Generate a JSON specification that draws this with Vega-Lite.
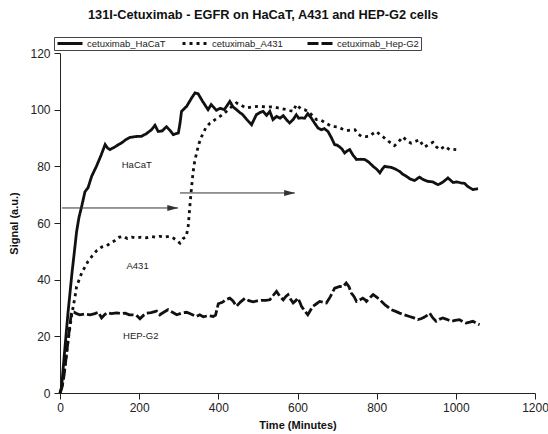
{
 "$schema": "https://vega.github.io/schema/vega-lite/v6.json",
 "width": 475,
 "height": 340,
 "autosize": {"type": "none"},
 "padding": {"left": 60, "top": 53, "right": 13, "bottom": 41},
 "background": "white",
 "config": {"view": {"stroke": null}, "font": "Liberation Sans", "axis": {"grid": false}},
 "title": {"text": "131I-Cetuximab - EGFR on HaCaT, A431 and HEP-G2 cells", "anchor": "start", "frame": "group", "dx": 28, "offset": 15, "fontSize": 12.8, "fontWeight": "bold", "font": "Liberation Sans", "color": "#111"},
 "datasets": {
  "curves": [
   {"series":"cetuximab_HaCaT","t":0,"v":0},{"series":"cetuximab_HaCaT","t":4,"v":2},{"series":"cetuximab_HaCaT","t":10,"v":12},{"series":"cetuximab_HaCaT","t":15,"v":20},{"series":"cetuximab_HaCaT","t":20,"v":28},{"series":"cetuximab_HaCaT","t":25,"v":35},{"series":"cetuximab_HaCaT","t":30,"v":42},{"series":"cetuximab_HaCaT","t":34,"v":47},{"series":"cetuximab_HaCaT","t":38,"v":52},{"series":"cetuximab_HaCaT","t":42,"v":57},{"series":"cetuximab_HaCaT","t":48,"v":62},{"series":"cetuximab_HaCaT","t":55,"v":66},{"series":"cetuximab_HaCaT","t":63,"v":71},{"series":"cetuximab_HaCaT","t":71,"v":72.5},{"series":"cetuximab_HaCaT","t":80,"v":76.5},{"series":"cetuximab_HaCaT","t":92,"v":80},{"series":"cetuximab_HaCaT","t":104,"v":84},{"series":"cetuximab_HaCaT","t":114,"v":87.7},{"series":"cetuximab_HaCaT","t":120,"v":86.5},{"series":"cetuximab_HaCaT","t":126,"v":85.9},{"series":"cetuximab_HaCaT","t":137,"v":86.7},{"series":"cetuximab_HaCaT","t":147,"v":87.6},{"series":"cetuximab_HaCaT","t":156,"v":88.3},{"series":"cetuximab_HaCaT","t":167,"v":89.5},{"series":"cetuximab_HaCaT","t":177,"v":90.2},{"series":"cetuximab_HaCaT","t":190,"v":90.5},{"series":"cetuximab_HaCaT","t":206,"v":90.6},{"series":"cetuximab_HaCaT","t":218,"v":91.5},{"series":"cetuximab_HaCaT","t":231,"v":92.9},{"series":"cetuximab_HaCaT","t":240,"v":94.5},{"series":"cetuximab_HaCaT","t":248,"v":92.3},{"series":"cetuximab_HaCaT","t":258,"v":92.5},{"series":"cetuximab_HaCaT","t":269,"v":94},{"series":"cetuximab_HaCaT","t":279,"v":92.5},{"series":"cetuximab_HaCaT","t":286,"v":91.2},{"series":"cetuximab_HaCaT","t":299,"v":91.8},{"series":"cetuximab_HaCaT","t":303,"v":95},{"series":"cetuximab_HaCaT","t":307,"v":99.4},{"series":"cetuximab_HaCaT","t":320,"v":101.2},{"series":"cetuximab_HaCaT","t":332,"v":104},{"series":"cetuximab_HaCaT","t":341,"v":105.9},{"series":"cetuximab_HaCaT","t":349,"v":105.6},{"series":"cetuximab_HaCaT","t":360,"v":103},{"series":"cetuximab_HaCaT","t":374,"v":100},{"series":"cetuximab_HaCaT","t":382,"v":101.8},{"series":"cetuximab_HaCaT","t":395,"v":99.8},{"series":"cetuximab_HaCaT","t":405,"v":100.5},{"series":"cetuximab_HaCaT","t":415,"v":100},{"series":"cetuximab_HaCaT","t":429,"v":102.9},{"series":"cetuximab_HaCaT","t":437,"v":101},{"series":"cetuximab_HaCaT","t":446,"v":100},{"series":"cetuximab_HaCaT","t":454,"v":99},{"series":"cetuximab_HaCaT","t":462,"v":98.2},{"series":"cetuximab_HaCaT","t":472,"v":96.5},{"series":"cetuximab_HaCaT","t":484,"v":94.7},{"series":"cetuximab_HaCaT","t":496,"v":98.2},{"series":"cetuximab_HaCaT","t":505,"v":99},{"series":"cetuximab_HaCaT","t":513,"v":99.4},{"series":"cetuximab_HaCaT","t":522,"v":98},{"series":"cetuximab_HaCaT","t":530,"v":99.4},{"series":"cetuximab_HaCaT","t":538,"v":96.5},{"series":"cetuximab_HaCaT","t":547,"v":97.6},{"series":"cetuximab_HaCaT","t":556,"v":97},{"series":"cetuximab_HaCaT","t":564,"v":97.9},{"series":"cetuximab_HaCaT","t":572,"v":96.5},{"series":"cetuximab_HaCaT","t":580,"v":95.3},{"series":"cetuximab_HaCaT","t":589,"v":96.5},{"series":"cetuximab_HaCaT","t":597,"v":98.2},{"series":"cetuximab_HaCaT","t":603,"v":97},{"series":"cetuximab_HaCaT","t":610,"v":97.1},{"series":"cetuximab_HaCaT","t":618,"v":97},{"series":"cetuximab_HaCaT","t":626,"v":98.6},{"series":"cetuximab_HaCaT","t":635,"v":97},{"series":"cetuximab_HaCaT","t":643,"v":95.3},{"series":"cetuximab_HaCaT","t":652,"v":93.5},{"series":"cetuximab_HaCaT","t":660,"v":92.9},{"series":"cetuximab_HaCaT","t":668,"v":93.3},{"series":"cetuximab_HaCaT","t":677,"v":92.3},{"series":"cetuximab_HaCaT","t":686,"v":90},{"series":"cetuximab_HaCaT","t":694,"v":87.6},{"series":"cetuximab_HaCaT","t":700,"v":87.5},{"series":"cetuximab_HaCaT","t":707,"v":86.8},{"series":"cetuximab_HaCaT","t":713,"v":86},{"series":"cetuximab_HaCaT","t":719,"v":84.7},{"series":"cetuximab_HaCaT","t":726,"v":85.5},{"series":"cetuximab_HaCaT","t":732,"v":85.9},{"series":"cetuximab_HaCaT","t":740,"v":84},{"series":"cetuximab_HaCaT","t":749,"v":82.4},{"series":"cetuximab_HaCaT","t":760,"v":82.5},{"series":"cetuximab_HaCaT","t":770,"v":82.4},{"series":"cetuximab_HaCaT","t":780,"v":81.5},{"series":"cetuximab_HaCaT","t":791,"v":80},{"series":"cetuximab_HaCaT","t":800,"v":79},{"series":"cetuximab_HaCaT","t":808,"v":77.7},{"series":"cetuximab_HaCaT","t":814,"v":79},{"series":"cetuximab_HaCaT","t":820,"v":80},{"series":"cetuximab_HaCaT","t":828,"v":79.8},{"series":"cetuximab_HaCaT","t":837,"v":79.6},{"series":"cetuximab_HaCaT","t":848,"v":79},{"series":"cetuximab_HaCaT","t":858,"v":78.2},{"series":"cetuximab_HaCaT","t":866,"v":77.2},{"series":"cetuximab_HaCaT","t":875,"v":76.5},{"series":"cetuximab_HaCaT","t":885,"v":75.5},{"series":"cetuximab_HaCaT","t":896,"v":75},{"series":"cetuximab_HaCaT","t":908,"v":76.2},{"series":"cetuximab_HaCaT","t":918,"v":75.3},{"series":"cetuximab_HaCaT","t":929,"v":74.7},{"series":"cetuximab_HaCaT","t":942,"v":74.5},{"series":"cetuximab_HaCaT","t":955,"v":73.5},{"series":"cetuximab_HaCaT","t":968,"v":74.5},{"series":"cetuximab_HaCaT","t":980,"v":75.9},{"series":"cetuximab_HaCaT","t":993,"v":74.3},{"series":"cetuximab_HaCaT","t":1003,"v":74.5},{"series":"cetuximab_HaCaT","t":1014,"v":74.1},{"series":"cetuximab_HaCaT","t":1022,"v":74},{"series":"cetuximab_HaCaT","t":1030,"v":72.9},{"series":"cetuximab_HaCaT","t":1043,"v":71.8},{"series":"cetuximab_HaCaT","t":1056,"v":72.1},
   {"series":"cetuximab_A431","t":0,"v":0},{"series":"cetuximab_A431","t":5,"v":2},{"series":"cetuximab_A431","t":10,"v":7},{"series":"cetuximab_A431","t":15,"v":12},{"series":"cetuximab_A431","t":20,"v":18},{"series":"cetuximab_A431","t":25,"v":23},{"series":"cetuximab_A431","t":29,"v":27},{"series":"cetuximab_A431","t":34,"v":31},{"series":"cetuximab_A431","t":38,"v":34},{"series":"cetuximab_A431","t":42,"v":37.6},{"series":"cetuximab_A431","t":50,"v":40.6},{"series":"cetuximab_A431","t":55,"v":42.4},{"series":"cetuximab_A431","t":63,"v":44.5},{"series":"cetuximab_A431","t":71,"v":46.5},{"series":"cetuximab_A431","t":82,"v":48.5},{"series":"cetuximab_A431","t":93,"v":50.3},{"series":"cetuximab_A431","t":105,"v":51.5},{"series":"cetuximab_A431","t":118,"v":52},{"series":"cetuximab_A431","t":128,"v":53},{"series":"cetuximab_A431","t":139,"v":53.8},{"series":"cetuximab_A431","t":150,"v":55},{"series":"cetuximab_A431","t":160,"v":55.3},{"series":"cetuximab_A431","t":170,"v":54.5},{"series":"cetuximab_A431","t":181,"v":55},{"series":"cetuximab_A431","t":193,"v":54.7},{"series":"cetuximab_A431","t":205,"v":55},{"series":"cetuximab_A431","t":218,"v":54.8},{"series":"cetuximab_A431","t":230,"v":55.2},{"series":"cetuximab_A431","t":241,"v":55},{"series":"cetuximab_A431","t":252,"v":55.3},{"series":"cetuximab_A431","t":263,"v":55},{"series":"cetuximab_A431","t":275,"v":55.3},{"series":"cetuximab_A431","t":286,"v":54.7},{"series":"cetuximab_A431","t":294,"v":54},{"series":"cetuximab_A431","t":303,"v":52.9},{"series":"cetuximab_A431","t":311,"v":54.5},{"series":"cetuximab_A431","t":317,"v":55},{"series":"cetuximab_A431","t":320,"v":56},{"series":"cetuximab_A431","t":324,"v":59},{"series":"cetuximab_A431","t":328,"v":65.9},{"series":"cetuximab_A431","t":332,"v":72},{"series":"cetuximab_A431","t":336,"v":77.7},{"series":"cetuximab_A431","t":340,"v":81.5},{"series":"cetuximab_A431","t":345,"v":84.7},{"series":"cetuximab_A431","t":351,"v":88},{"series":"cetuximab_A431","t":358,"v":90.6},{"series":"cetuximab_A431","t":368,"v":93.5},{"series":"cetuximab_A431","t":379,"v":95.3},{"series":"cetuximab_A431","t":392,"v":96.5},{"series":"cetuximab_A431","t":404,"v":97.6},{"series":"cetuximab_A431","t":416,"v":98.8},{"series":"cetuximab_A431","t":425,"v":100},{"series":"cetuximab_A431","t":435,"v":101.2},{"series":"cetuximab_A431","t":446,"v":102.4},{"series":"cetuximab_A431","t":458,"v":101.5},{"series":"cetuximab_A431","t":471,"v":100.6},{"series":"cetuximab_A431","t":488,"v":101},{"series":"cetuximab_A431","t":505,"v":101.2},{"series":"cetuximab_A431","t":518,"v":101},{"series":"cetuximab_A431","t":530,"v":101},{"series":"cetuximab_A431","t":541,"v":101},{"series":"cetuximab_A431","t":551,"v":100.6},{"series":"cetuximab_A431","t":562,"v":100.3},{"series":"cetuximab_A431","t":572,"v":100},{"series":"cetuximab_A431","t":580,"v":99.7},{"series":"cetuximab_A431","t":589,"v":99.4},{"series":"cetuximab_A431","t":597,"v":101.8},{"series":"cetuximab_A431","t":603,"v":101},{"series":"cetuximab_A431","t":610,"v":100.2},{"series":"cetuximab_A431","t":618,"v":100},{"series":"cetuximab_A431","t":626,"v":99.4},{"series":"cetuximab_A431","t":637,"v":98},{"series":"cetuximab_A431","t":648,"v":96.5},{"series":"cetuximab_A431","t":656,"v":96.5},{"series":"cetuximab_A431","t":664,"v":95.9},{"series":"cetuximab_A431","t":675,"v":95},{"series":"cetuximab_A431","t":686,"v":94.1},{"series":"cetuximab_A431","t":694,"v":94},{"series":"cetuximab_A431","t":702,"v":93.9},{"series":"cetuximab_A431","t":713,"v":93.2},{"series":"cetuximab_A431","t":724,"v":92.6},{"series":"cetuximab_A431","t":735,"v":92.8},{"series":"cetuximab_A431","t":745,"v":92.9},{"series":"cetuximab_A431","t":753,"v":91.5},{"series":"cetuximab_A431","t":761,"v":90.6},{"series":"cetuximab_A431","t":772,"v":90.5},{"series":"cetuximab_A431","t":782,"v":90.6},{"series":"cetuximab_A431","t":790,"v":91.5},{"series":"cetuximab_A431","t":799,"v":92.3},{"series":"cetuximab_A431","t":810,"v":91},{"series":"cetuximab_A431","t":820,"v":90},{"series":"cetuximab_A431","t":833,"v":88.5},{"series":"cetuximab_A431","t":845,"v":87.3},{"series":"cetuximab_A431","t":856,"v":88.8},{"series":"cetuximab_A431","t":866,"v":90.4},{"series":"cetuximab_A431","t":877,"v":89},{"series":"cetuximab_A431","t":887,"v":88.2},{"series":"cetuximab_A431","t":898,"v":88.8},{"series":"cetuximab_A431","t":908,"v":89.4},{"series":"cetuximab_A431","t":914,"v":88},{"series":"cetuximab_A431","t":921,"v":86.8},{"series":"cetuximab_A431","t":932,"v":87.8},{"series":"cetuximab_A431","t":942,"v":88.5},{"series":"cetuximab_A431","t":950,"v":87},{"series":"cetuximab_A431","t":959,"v":85.9},{"series":"cetuximab_A431","t":966,"v":86.5},{"series":"cetuximab_A431","t":972,"v":87.1},{"series":"cetuximab_A431","t":978,"v":86.5},{"series":"cetuximab_A431","t":984,"v":85.9},{"series":"cetuximab_A431","t":992,"v":86},{"series":"cetuximab_A431","t":1001,"v":85.9},
   {"series":"cetuximab_Hep-G2","t":0,"v":0},{"series":"cetuximab_Hep-G2","t":5,"v":2},{"series":"cetuximab_Hep-G2","t":10,"v":6},{"series":"cetuximab_Hep-G2","t":15,"v":12},{"series":"cetuximab_Hep-G2","t":20,"v":18},{"series":"cetuximab_Hep-G2","t":25,"v":24},{"series":"cetuximab_Hep-G2","t":29,"v":28.5},{"series":"cetuximab_Hep-G2","t":35,"v":28.6},{"series":"cetuximab_Hep-G2","t":42,"v":28},{"series":"cetuximab_Hep-G2","t":50,"v":27.6},{"series":"cetuximab_Hep-G2","t":63,"v":27.9},{"series":"cetuximab_Hep-G2","t":76,"v":27.6},{"series":"cetuximab_Hep-G2","t":88,"v":28},{"series":"cetuximab_Hep-G2","t":97,"v":28.5},{"series":"cetuximab_Hep-G2","t":105,"v":26.5},{"series":"cetuximab_Hep-G2","t":112,"v":27.5},{"series":"cetuximab_Hep-G2","t":118,"v":28.3},{"series":"cetuximab_Hep-G2","t":130,"v":28},{"series":"cetuximab_Hep-G2","t":143,"v":28.3},{"series":"cetuximab_Hep-G2","t":155,"v":28},{"series":"cetuximab_Hep-G2","t":165,"v":28.2},{"series":"cetuximab_Hep-G2","t":175,"v":27.6},{"series":"cetuximab_Hep-G2","t":185,"v":27.6},{"series":"cetuximab_Hep-G2","t":193,"v":27.5},{"series":"cetuximab_Hep-G2","t":202,"v":26.2},{"series":"cetuximab_Hep-G2","t":210,"v":27.3},{"series":"cetuximab_Hep-G2","t":219,"v":28.2},{"series":"cetuximab_Hep-G2","t":230,"v":28.4},{"series":"cetuximab_Hep-G2","t":244,"v":28.9},{"series":"cetuximab_Hep-G2","t":252,"v":27.6},{"series":"cetuximab_Hep-G2","t":262,"v":28.5},{"series":"cetuximab_Hep-G2","t":273,"v":29.4},{"series":"cetuximab_Hep-G2","t":284,"v":28.5},{"series":"cetuximab_Hep-G2","t":295,"v":27.6},{"series":"cetuximab_Hep-G2","t":307,"v":28.2},{"series":"cetuximab_Hep-G2","t":320,"v":28.5},{"series":"cetuximab_Hep-G2","t":332,"v":27.8},{"series":"cetuximab_Hep-G2","t":345,"v":27},{"series":"cetuximab_Hep-G2","t":353,"v":27.6},{"series":"cetuximab_Hep-G2","t":362,"v":26.9},{"series":"cetuximab_Hep-G2","t":375,"v":27.3},{"series":"cetuximab_Hep-G2","t":387,"v":27},{"series":"cetuximab_Hep-G2","t":393,"v":27.5},{"series":"cetuximab_Hep-G2","t":400,"v":31.5},{"series":"cetuximab_Hep-G2","t":410,"v":32},{"series":"cetuximab_Hep-G2","t":420,"v":33},{"series":"cetuximab_Hep-G2","t":429,"v":33.5},{"series":"cetuximab_Hep-G2","t":437,"v":32.5},{"series":"cetuximab_Hep-G2","t":446,"v":30.6},{"series":"cetuximab_Hep-G2","t":455,"v":32},{"series":"cetuximab_Hep-G2","t":467,"v":33.4},{"series":"cetuximab_Hep-G2","t":477,"v":32.6},{"series":"cetuximab_Hep-G2","t":488,"v":32.2},{"series":"cetuximab_Hep-G2","t":498,"v":32.5},{"series":"cetuximab_Hep-G2","t":509,"v":32.7},{"series":"cetuximab_Hep-G2","t":520,"v":32.7},{"series":"cetuximab_Hep-G2","t":530,"v":32.9},{"series":"cetuximab_Hep-G2","t":539,"v":34.5},{"series":"cetuximab_Hep-G2","t":547,"v":35.9},{"series":"cetuximab_Hep-G2","t":556,"v":34},{"series":"cetuximab_Hep-G2","t":564,"v":32.9},{"series":"cetuximab_Hep-G2","t":570,"v":34},{"series":"cetuximab_Hep-G2","t":576,"v":34.7},{"series":"cetuximab_Hep-G2","t":583,"v":33},{"series":"cetuximab_Hep-G2","t":589,"v":31.8},{"series":"cetuximab_Hep-G2","t":595,"v":32.5},{"series":"cetuximab_Hep-G2","t":601,"v":33.5},{"series":"cetuximab_Hep-G2","t":606,"v":32},{"series":"cetuximab_Hep-G2","t":610,"v":30.6},{"series":"cetuximab_Hep-G2","t":618,"v":29},{"series":"cetuximab_Hep-G2","t":626,"v":27.6},{"series":"cetuximab_Hep-G2","t":632,"v":29},{"series":"cetuximab_Hep-G2","t":639,"v":30.6},{"series":"cetuximab_Hep-G2","t":648,"v":31.5},{"series":"cetuximab_Hep-G2","t":656,"v":32.3},{"series":"cetuximab_Hep-G2","t":665,"v":32},{"series":"cetuximab_Hep-G2","t":673,"v":31.8},{"series":"cetuximab_Hep-G2","t":683,"v":34},{"series":"cetuximab_Hep-G2","t":694,"v":37},{"series":"cetuximab_Hep-G2","t":700,"v":37.3},{"series":"cetuximab_Hep-G2","t":707,"v":37.6},{"series":"cetuximab_Hep-G2","t":715,"v":37.5},{"series":"cetuximab_Hep-G2","t":723,"v":38.8},{"series":"cetuximab_Hep-G2","t":730,"v":37.5},{"series":"cetuximab_Hep-G2","t":736,"v":35.3},{"series":"cetuximab_Hep-G2","t":743,"v":34},{"series":"cetuximab_Hep-G2","t":749,"v":32.3},{"series":"cetuximab_Hep-G2","t":757,"v":32.8},{"series":"cetuximab_Hep-G2","t":765,"v":33.5},{"series":"cetuximab_Hep-G2","t":770,"v":33},{"series":"cetuximab_Hep-G2","t":774,"v":32.3},{"series":"cetuximab_Hep-G2","t":782,"v":33.5},{"series":"cetuximab_Hep-G2","t":791,"v":34.7},{"series":"cetuximab_Hep-G2","t":800,"v":33.8},{"series":"cetuximab_Hep-G2","t":808,"v":32.9},{"series":"cetuximab_Hep-G2","t":822,"v":31},{"series":"cetuximab_Hep-G2","t":837,"v":29.4},{"series":"cetuximab_Hep-G2","t":848,"v":28.8},{"series":"cetuximab_Hep-G2","t":858,"v":28.2},{"series":"cetuximab_Hep-G2","t":870,"v":27.6},{"series":"cetuximab_Hep-G2","t":883,"v":27},{"series":"cetuximab_Hep-G2","t":894,"v":26.5},{"series":"cetuximab_Hep-G2","t":904,"v":25.9},{"series":"cetuximab_Hep-G2","t":912,"v":26.2},{"series":"cetuximab_Hep-G2","t":921,"v":26.8},{"series":"cetuximab_Hep-G2","t":928,"v":27.5},{"series":"cetuximab_Hep-G2","t":934,"v":28.2},{"series":"cetuximab_Hep-G2","t":942,"v":26.5},{"series":"cetuximab_Hep-G2","t":950,"v":25.3},{"series":"cetuximab_Hep-G2","t":958,"v":26},{"series":"cetuximab_Hep-G2","t":967,"v":26.5},{"series":"cetuximab_Hep-G2","t":977,"v":26},{"series":"cetuximab_Hep-G2","t":988,"v":25.3},{"series":"cetuximab_Hep-G2","t":998,"v":25.6},{"series":"cetuximab_Hep-G2","t":1009,"v":25.9},{"series":"cetuximab_Hep-G2","t":1017,"v":25.2},{"series":"cetuximab_Hep-G2","t":1026,"v":24.7},{"series":"cetuximab_Hep-G2","t":1035,"v":25},{"series":"cetuximab_Hep-G2","t":1043,"v":25.3},{"series":"cetuximab_Hep-G2","t":1052,"v":24.6},{"series":"cetuximab_Hep-G2","t":1060,"v":24.1}
  ],
  "arrows": [
   {"t": 5, "t2": 298, "head": 285, "v": 65.3},
   {"t": 303, "t2": 593, "head": 580, "v": 70.6}
  ],
  "labels": [
   {"label": "HaCaT", "t": 194, "v": 80.6},
   {"label": "A431", "t": 196, "v": 44.9},
   {"label": "HEP-G2", "t": 204, "v": 20}
  ]
 },
 "layer": [
  {
   "data": {"name": "curves"},
   "mark": {"type": "line", "color": "#111", "strokeWidth": 2.8},
   "encoding": {
    "x": {"field": "t", "type": "quantitative", "scale": {"domain": [0, 1200], "nice": false},
     "axis": {"title": "Time (Minutes)", "values": [0,50,100,150,200,250,300,350,400,450,500,550,600,650,700,750,800,850,900,950,1000,1050,1100,1150,1200],
      "labelExpr": "datum.value % 200 === 0 ? datum.label : ''", "format": "d",
      "tickSize": {"condition": {"test": "datum.value % 200 === 0", "value": 6}, "value": 4},
      "domainColor": "#222", "tickColor": "#222", "labelColor": "#222", "labelFontSize": 12, "labelFont": "Liberation Sans", "labelPadding": 3,
      "titleFontSize": 11, "titleFontWeight": "bold", "titleFont": "Liberation Sans", "titleColor": "#111", "titlePadding": 6, "labelFlush": false, "labelOverlap": false}},
    "y": {"field": "v", "type": "quantitative", "scale": {"domain": [0, 120], "nice": false},
     "axis": {"title": "Signal (a.u.)", "values": [0,5,10,15,20,25,30,35,40,45,50,55,60,65,70,75,80,85,90,95,100,105,110,115,120],
      "labelExpr": "datum.value % 20 === 0 ? datum.label : ''",
      "tickSize": {"condition": {"test": "datum.value % 20 === 0", "value": 6}, "value": 4},
      "domainColor": "#222", "tickColor": "#222", "labelColor": "#222", "labelFontSize": 12, "labelFont": "Liberation Sans", "labelPadding": 4,
      "titleFontSize": 11, "titleFontWeight": "bold", "titleFont": "Liberation Sans", "titleColor": "#111", "titlePadding": 10, "labelFlush": false, "labelOverlap": false}},
    "strokeDash": {"field": "series", "type": "nominal",
     "scale": {"domain": ["cetuximab_HaCaT", "cetuximab_A431", "cetuximab_Hep-G2"], "range": [[1, 0], [3, 4], [11, 3]]},
     "legend": {"title": null, "orient": "none", "legendX": -6, "legendY": -16, "direction": "horizontal", "columns": 3, "gridAlign": "all", "columnPadding": 12,
      "symbolType": "stroke", "symbolSize": 625, "symbolStrokeWidth": 2.8, "symbolStrokeColor": "#111", "clipHeight": 9,
      "labelFontSize": 9.5, "labelFont": "Liberation Sans", "labelColor": "#222", "labelOffset": 3, "padding": 2, "strokeColor": "#444", "fillColor": "white"}}
   }
  },
  {
   "data": {"name": "arrows"},
   "mark": {"type": "rule", "color": "#333", "strokeWidth": 1},
   "encoding": {"x": {"field": "t", "type": "quantitative"}, "x2": {"field": "t2"}, "y": {"field": "v", "type": "quantitative"}}
  },
  {
   "data": {"name": "arrows"},
   "mark": {"type": "point", "shape": "M-1,-0.55L1,0L-1,0.55Z", "filled": true, "color": "#333", "size": 120, "opacity": 1},
   "encoding": {"x": {"field": "head", "type": "quantitative"}, "y": {"field": "v", "type": "quantitative"}}
  },
  {
   "data": {"name": "labels"},
   "mark": {"type": "text", "font": "Liberation Sans", "fontSize": 9.5, "color": "#222", "align": "center", "baseline": "middle"},
   "encoding": {"x": {"field": "t", "type": "quantitative"}, "y": {"field": "v", "type": "quantitative"}, "text": {"field": "label"}}
  }
 ]
}
